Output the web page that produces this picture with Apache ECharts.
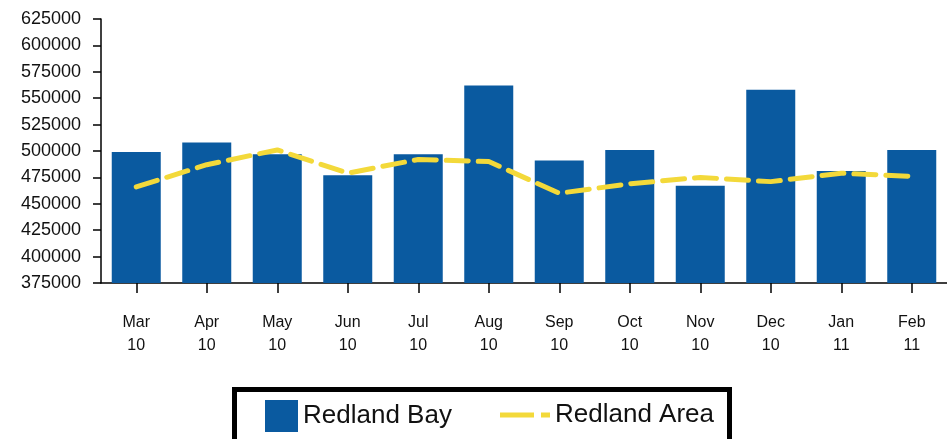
<!DOCTYPE html>
<html>
<head>
<meta charset="utf-8">
<script src="https://cdn.jsdelivr.net/npm/echarts@6/dist/echarts.min.js"></script>
<style>
html,body{margin:0;padding:0;background:#fff;}
#chart{width:947px;height:439px;}
</style>
</head>
<body>
<div id="chart"></div>
<script>
const categories = ['Mar 10','Apr 10','May 10','Jun 10','Jul 10','Aug 10','Sep 10','Oct 10','Nov 10','Dec 10','Jan 11','Feb 11'];
const redlandBay = [499000, 508000, 497000, 477000, 497000, 562000, 491000, 501000, 467000, 558000, 481000, 501000];
const redlandArea = [466000, 487000, 501000, 479000, 492000, 490000, 460000, 469000, 475000, 471000, 479000, 476000];
const yMin = 375000, yMax = 625000, yStep = 25000;

const chart = echarts.init(document.getElementById('chart'), null, {renderer:'canvas'});
const font = 'Liberation Sans, Arial, sans-serif';
chart.setOption({
  animation: false,
  backgroundColor: '#fff',
  grid: {left: 101, top: 19, width: 852, height: 264, containLabel: false},
  xAxis: {
    type: 'category',
    data: categories,
    boundaryGap: true,
    axisLine: {show: true, lineStyle: {color: '#000', width: 1.5}},
    axisTick: {show: true, alignWithLabel: true, length: 10, lineStyle: {color: '#000', width: 1.5}},
    axisLabel: {
      margin: 28, color: '#111', fontFamily: font, fontSize: 16, lineHeight: 23,
      formatter: v => v.replace(' ', '\n')
    },
    splitLine: {show: false}
  },
  yAxis: {
    type: 'value',
    min: yMin, max: yMax, interval: yStep,
    axisLine: {show: true, lineStyle: {color: '#000', width: 1.5}},
    axisTick: {show: true, length: 8, lineStyle: {color: '#000', width: 1.5}},
    axisLabel: {margin: 20, color: '#111', fontFamily: font, fontSize: 18, formatter: v => String(v)},
    splitLine: {show: false}
  },
  legend: [
    {
      data: ['Redland Bay'], left: 265, top: 400, padding: 0,
      itemWidth: 33, itemHeight: 32, itemGap: 0, itemTextGap: 12,
      icon: 'rect',
      textStyle: {fontFamily: font, fontSize: 26, color: '#111'}
    },
    {
      data: [{name: 'Redland Area', icon: 'path://M0,0H34V5H0Z M41,0H50V5H41Z', itemStyle: {color: '#f3d93a'}}],
      left: 500, top: 402, padding: 0,
      itemWidth: 50, itemHeight: 32, itemGap: 0, itemTextGap: 10,
      textStyle: {fontFamily: font, fontSize: 26, color: '#111'}
    }
  ],
  graphic: [{
    type: 'rect', z: -1,
    shape: {x: 234.5, y: 389.5, width: 495, height: 70},
    style: {fill: '#fff', stroke: '#000', lineWidth: 5}
  }],
  series: [
    {
      name: 'Redland Bay', type: 'bar', data: redlandBay, barWidth: 49,
      itemStyle: {color: '#0a5aa0'}
    },
    {
      name: 'Redland Area', type: 'line', data: redlandArea,
      symbol: 'none', smooth: false,
      lineStyle: {color: '#f3d93a', width: 5, type: [22, 10], cap: 'round'},
      itemStyle: {color: '#f3d93a'}
    }
  ]
});
</script>
</body>
</html>
